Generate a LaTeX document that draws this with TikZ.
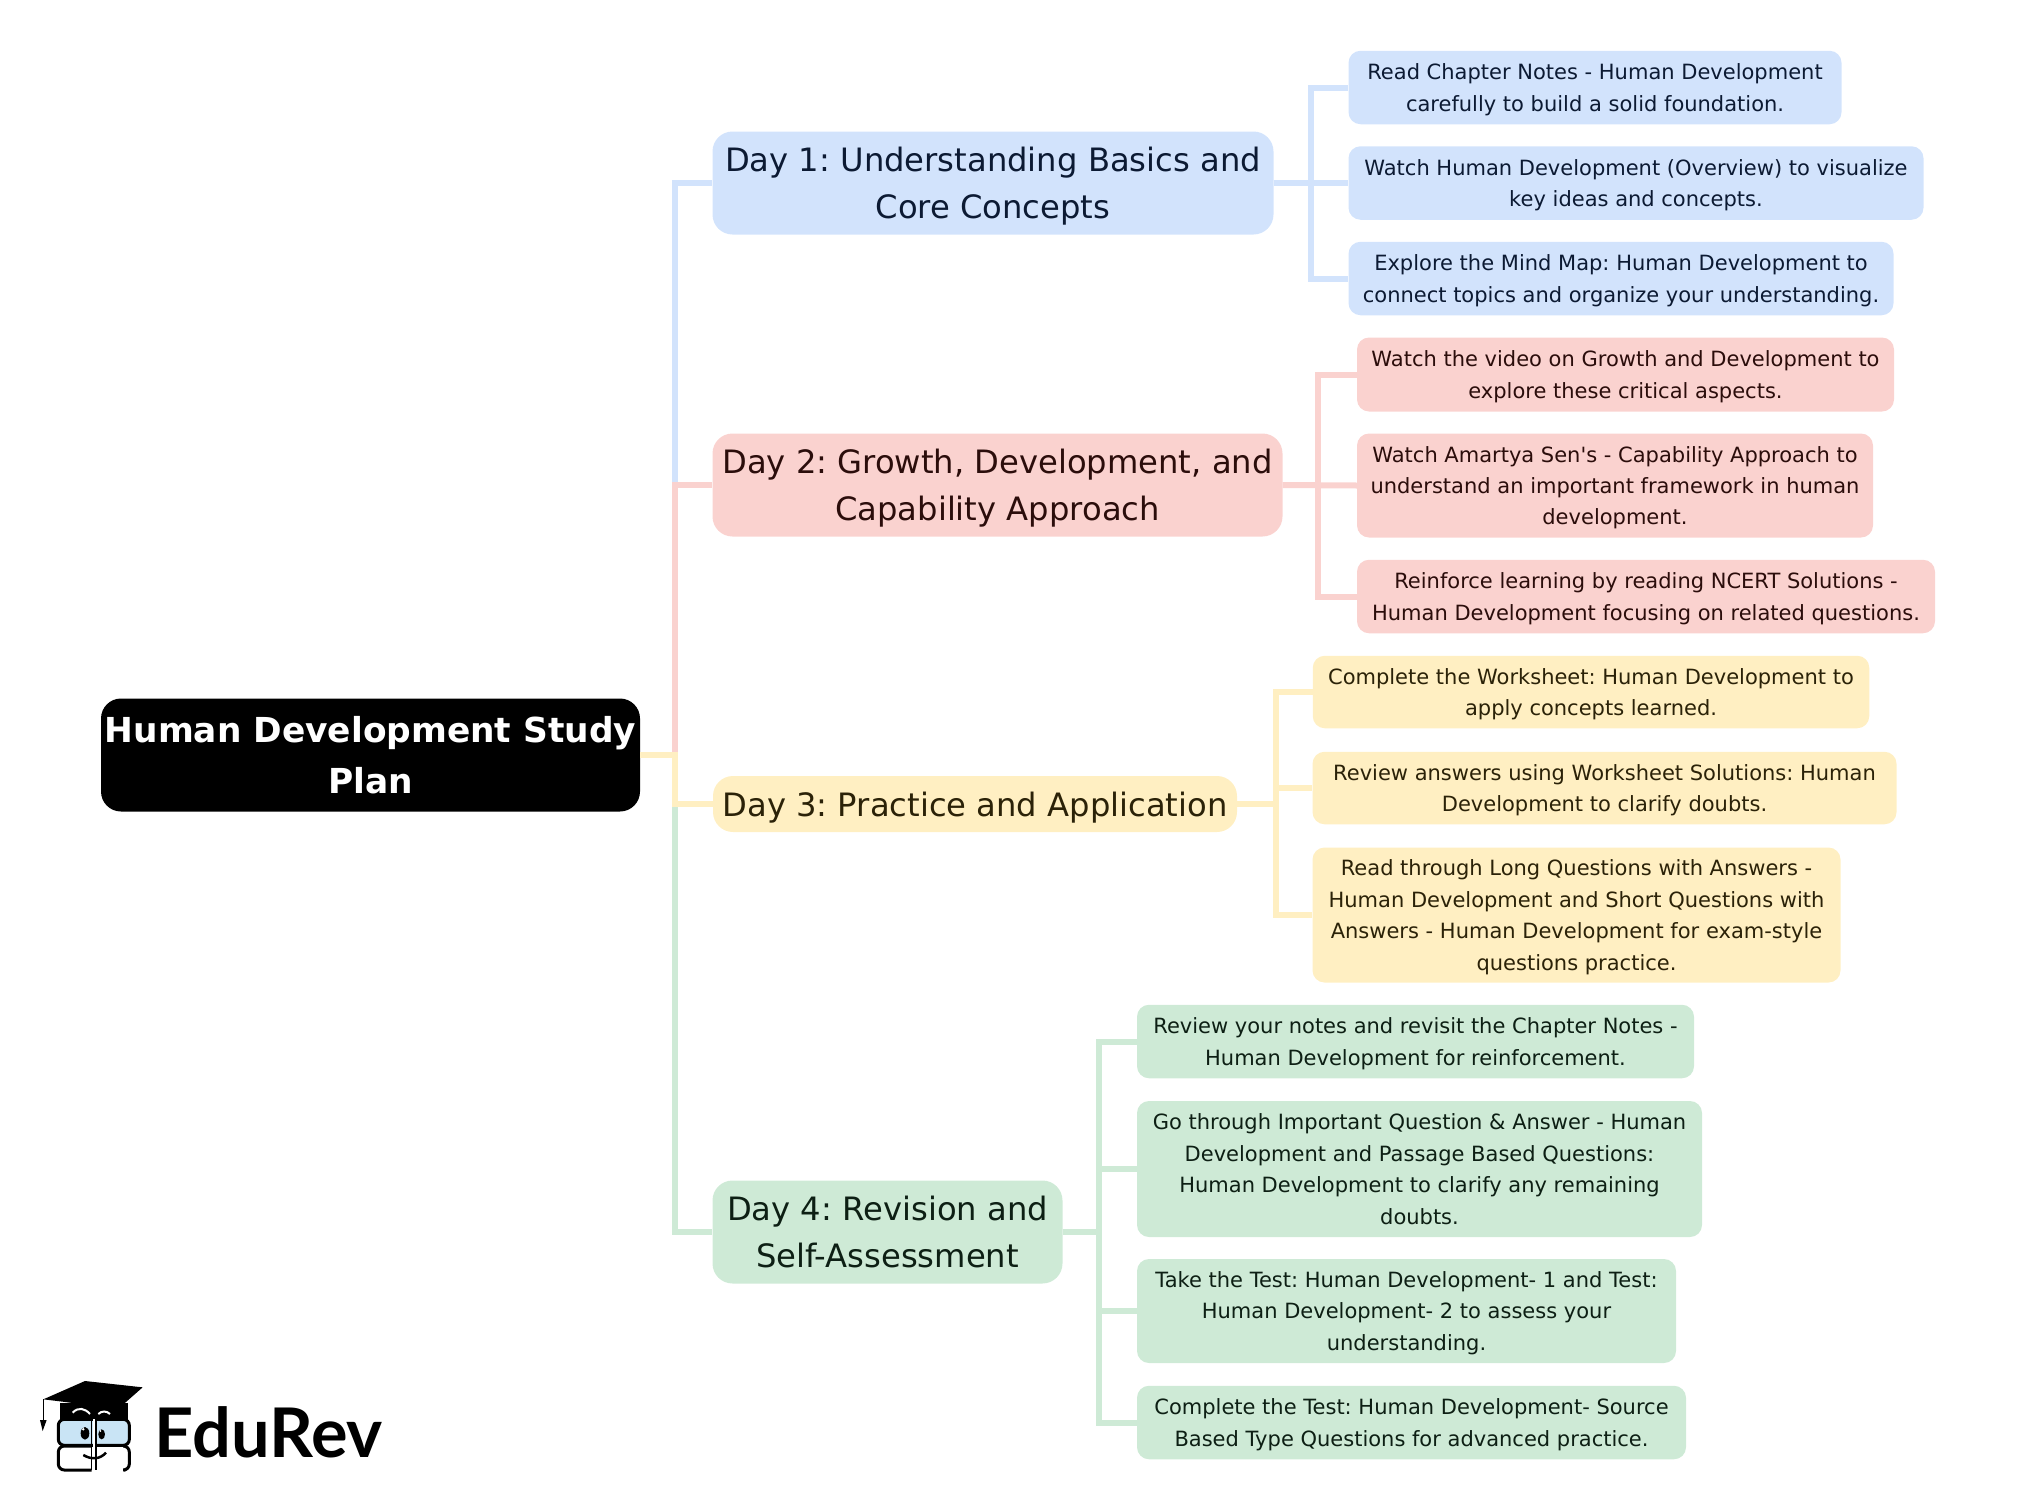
\documentclass[tikz,border=0pt]{standalone}
\usepackage{fontspec}
\setmainfont{DejaVu Sans}
\newfontfamily\logofont{Lato}
\usepackage{tikz}

\definecolor{fillblue}{HTML}{D2E3FC}
\definecolor{fillred}{HTML}{FAD2CF}
\definecolor{fillyellow}{HTML}{FFEFC2}
\definecolor{fillgreen}{HTML}{CEEAD6}
\definecolor{fillglass}{HTML}{C9E4F5}
\definecolor{textblue}{HTML}{0C1A33}
\definecolor{textred}{HTML}{2B0D0B}
\definecolor{textyellow}{HTML}{2B2208}
\definecolor{textgreen}{HTML}{0D1F14}

\newcommand{\fl}{\rule{0pt}{1.05em}}

\tikzset{
    box/.style={rounded corners=12, inner sep=0, align=center, execute at end node=\rule[-.295em]{0pt}{.295em}},
    rootbox/.style={box, rounded corners=20, fill=black, text=white, font=\fontsize{34.4}{50.5}\selectfont\bfseries\frenchspacing},
    daybox/.style={box, rounded corners=20, font=\fontsize{32.2}{47}\selectfont\frenchspacing},
    subbox/.style={box, font=\fontsize{21}{31.4}\selectfont\frenchspacing},
    tintblue/.style={fill=fillblue, text=textblue},
    tintred/.style={fill=fillred, text=textred},
    tintyellow/.style={fill=fillyellow, text=textyellow},
    tintgreen/.style={fill=fillgreen, text=textgreen},
    link/.style={line width=6, line join=miter},
}

\begin{document}
\begin{tikzpicture}[x=1pt, y=-1pt]
    \useasboundingbox (0, 0) rectangle (2035, 1510);

    \coordinate (T0) at (675, 755);
    \coordinate (T1) at (1311, 183);
    \coordinate (T2) at (1318, 485);
    \coordinate (T3) at (1276, 804);
    \coordinate (T4) at (1099, 1232);

    \node[rootbox, minimum width=539, minimum height=113] (root) at (370.5, 755) {\fl Human Development Study\\Plan};

    \node[daybox, tintblue, minimum width=561, minimum height=103] (D1) at (993, 183) {\fl Day 1: Understanding Basics and\\Core Concepts};
    \node[daybox, tintred, minimum width=570, minimum height=103] (D2) at (997.5, 485) {\fl Day 2: Growth, Development, and\\Capability Approach};
    \node[daybox, tintyellow, minimum width=524, minimum height=56] (D3) at (975, 804) {\fl Day 3: Practice and Application};
    \node[daybox, tintgreen, minimum width=350, minimum height=103] (D4) at (887.5, 1232) {\fl Day 4: Revision and\\Self-Assessment};

    \node[subbox, tintblue, minimum width=493, minimum height=73.5] (S11) at (1595, 87.5) {\fl Read Chapter Notes - Human Development\\carefully to build a solid foundation.};
    \node[subbox, tintblue, minimum width=575, minimum height=73.5] (S12) at (1636, 183) {\fl Watch Human Development (Overview) to visualize\\key ideas and concepts.};
    \node[subbox, tintblue, minimum width=545, minimum height=73.5] (S13) at (1621, 278.5) {\fl Explore the Mind Map: Human Development to\\connect topics and organize your understanding.};

    \node[subbox, tintred, minimum width=537, minimum height=74] (S21) at (1625.5, 374.5) {\fl Watch the video on Growth and Development to\\explore these critical aspects.};
    \node[subbox, tintred, minimum width=516, minimum height=104] (S22) at (1615, 485.5) {\fl Watch Amartya Sen\textquotesingle s - Capability Approach to\\understand an important framework in human\\development.};
    \node[subbox, tintred, minimum width=578, minimum height=73.5] (S23) at (1646, 596.5) {\fl Reinforce learning by reading NCERT Solutions -\\Human Development focusing on related questions.};

    \node[subbox, tintyellow, minimum width=556.5, minimum height=72.5] (S31) at (1591, 692) {\fl Complete the Worksheet: Human Development to\\apply concepts learned.};
    \node[subbox, tintyellow, minimum width=584, minimum height=72.5] (S32) at (1604.5, 788) {\fl Review answers using Worksheet Solutions: Human\\Development to clarify doubts.};
    \node[subbox, tintyellow, minimum width=528, minimum height=135] (S33) at (1576.5, 915) {\fl Read through Long Questions with Answers -\\Human Development and Short Questions with\\Answers - Human Development for exam-style\\questions practice.};

    \node[subbox, tintgreen, minimum width=557, minimum height=73.5] (S41) at (1415.5, 1041.5) {\fl Review your notes and revisit the Chapter Notes -\\Human Development for reinforcement.};
    \node[subbox, tintgreen, minimum width=565, minimum height=136] (S42) at (1419.5, 1169) {\fl Go through Important Question \& Answer - Human\\Development and Passage Based Questions:\\Human Development to clarify any remaining\\doubts.};
    \node[subbox, tintgreen, minimum width=539, minimum height=104] (S43) at (1406.5, 1311) {\fl Take the Test: Human Development- 1 and Test:\\Human Development- 2 to assess your\\understanding.};
    \node[subbox, tintgreen, minimum width=549, minimum height=73.5] (S44) at (1411.5, 1422.5) {\fl Complete the Test: Human Development- Source\\Based Type Questions for advanced practice.};

    % main branches
    \draw[link, fillblue] (root.east) -- (T0 |- root.east) |- (D1.west);
    \draw[link, fillred] (root.east) -- (T0 |- root.east) |- (D2.west);
    \draw[link, fillgreen] (root.east) -- (T0 |- root.east) |- (D4.west);
    \draw[link, fillyellow] (root.east) -- (T0 |- root.east) |- (D3.west);

    % day 1
    \draw[link, fillblue] (D1.east) -- (T1 |- D1.east) |- (S11.west);
    \draw[link, fillblue] (D1.east) -- (S12.west);
    \draw[link, fillblue] (D1.east) -- (T1 |- D1.east) |- (S13.west);

    % day 2
    \draw[link, fillred] (D2.east) -- (T2 |- D2.east) |- (S21.west);
    \draw[link, fillred] (D2.east) -- (S22.west);
    \draw[link, fillred] (D2.east) -- (T2 |- D2.east) |- (S23.west);

    % day 3
    \draw[link, fillyellow] (D3.east) -- (T3 |- D3.east) |- (S31.west);
    \draw[link, fillyellow] (D3.east) -- (T3 |- D3.east) |- (S32.west);
    \draw[link, fillyellow] (D3.east) -- (T3 |- D3.east) |- (S33.west);

    % day 4
    \draw[link, fillgreen] (D4.east) -- (T4 |- D4.east) |- (S41.west);
    \draw[link, fillgreen] (D4.east) -- (T4 |- D4.east) |- (S42.west);
    \draw[link, fillgreen] (D4.east) -- (T4 |- D4.east) |- (S43.west);
    \draw[link, fillgreen] (D4.east) -- (T4 |- D4.east) |- (S44.west);

    % logo
    \node[anchor=base west, inner sep=0, font=\fontsize{68.5}{68}\selectfont\logofont\bfseries] (logo) at (154, 1457) {EduRev};
    \begin{scope}[shift={(0, 1340)}, x=0.3333pt, y=-0.3333pt]
        \fill (180, 190) -- (385, 190) -- (385, 240) -- (180, 240) -- cycle; % head
        \draw[white, line width=2] (218, 218) .. controls (235, 200) and (255, 205) .. (270, 222); % brow
        \draw[white, line width=2] (295, 222) .. controls (305, 212) and (320, 212) .. (330, 222); % brow
        \fill (130, 178) -- (255, 123) -- (428, 142) -- (345, 215) -- (240, 192) -- (180, 184) -- cycle; % cap
        \draw[line width=1.5] (130, 178) -- (130, 240);
        \fill (120, 240) -- (140, 240) -- (128, 273) -- cycle; % tassel
        \draw[line width=3, fill=fillglass, rounded corners=6] (175, 238) rectangle (388, 316); % glasses
        \draw[line width=3, rounded corners=6] (275, 318) -- (175, 318) -- (175, 390) -- (275, 390);
        \draw[line width=3, rounded corners=6] (375, 318) -- (388, 318) -- (388, 390) -- (376, 390);
        \fill[white] (278, 238) rectangle (286, 390);
        \draw[line width=1] (276, 238) -- (276, 390);
        \draw[line width=2] (287, 238) -- (287, 390);
        \fill (255, 280) ellipse (13 and 19);
        \fill (305, 283) ellipse (10 and 15);
        \fill[white] (250, 268) circle (4);
        \fill[white] (301, 273) circle (3);
        \draw[line width=2.5] (250, 345) .. controls (275, 360) and (300, 358) .. (318, 338); % smile
    \end{scope}
\end{tikzpicture}
\end{document}
